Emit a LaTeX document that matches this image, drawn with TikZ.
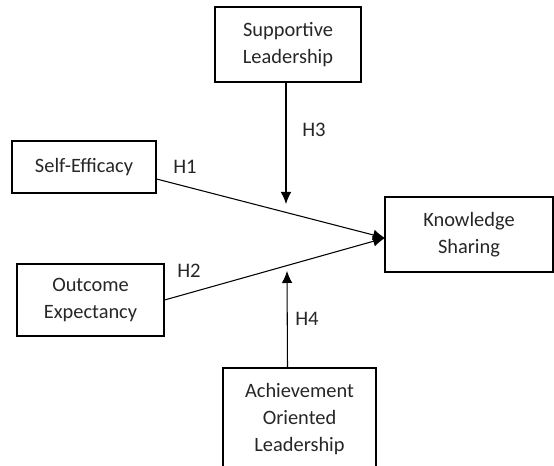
\documentclass[tikz,border=0pt]{standalone}
\usepackage{fontspec}
\setmainfont{Carlito}
\usetikzlibrary{arrows.meta}
\begin{document}
\begin{tikzpicture}[x=0.75pt,y=-0.75pt,
  box/.style={draw=black,line width=0.85pt,rectangle,inner sep=0pt,align=center,
    font=\fontsize{15.3}{20.5}\selectfont,text=black!85},
  hlab/.style={inner sep=0pt,font=\fontsize{15.5}{18}\selectfont,text=black!85},
  conn/.style={line width=0.8pt,-{Latex[length=9pt,width=8pt]}}]
\useasboundingbox (0,0) rectangle (554,466);
\clip (0,0) rectangle (554,466);
\node[box,minimum width=109.5pt,minimum height=56.25pt] (sup) at (288,44.5) {Supportive\\Leadership};
\node[box,minimum width=108pt,minimum height=39pt] (se) at (84,167) {\raisebox{2pt}{Self-Efficacy}};
\node[box,minimum width=110.25pt,minimum height=54pt] (oe) at (90.5,300) {Outcome\\Expectancy};
\node[box,minimum width=126pt,minimum height=56.25pt] (ks) at (469,234.5) {Knowledge\\Sharing};
\node[box,minimum width=114.75pt,minimum height=76.5pt] (ach) at (299.5,419) {Achievement\\Oriented\\Leadership};
\coordinate (tip) at (385,238);
\coordinate (h3end) at (286,204);
\coordinate (h4end) at (287,271);
\draw[conn] ([xshift=-1.5pt]sup.south) -- (h3end);
\draw[conn] ([xshift=-9pt]ach.north) -- (h4end);
\draw[conn] ([yshift=-9pt]se.east) -- (tip);
\draw[conn] (oe.east) -- (tip);
\node[hlab] (h1) at (185,167) {H1};
\node[hlab] (h2) at (189,271) {H2};
\node[hlab] (h3) at (314,130) {H3};
\node[hlab] (h4) at (307,319) {H4};
\end{tikzpicture}
\end{document}
